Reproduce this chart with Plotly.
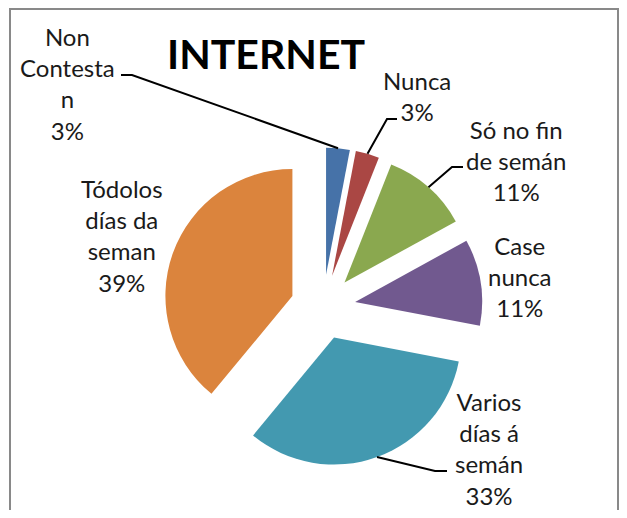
import math
import plotly.graph_objects as go

# ---- data ----
categories = ["Non Contesta n", "Nunca", "Só no fin de semán", "Case nunca",
              "Varios días á semán", "Tódolos días da seman"]
values = [3, 3, 11, 11, 33, 39]
label_lines = [["Non", "Contesta", "n"], ["Nunca"], ["Só no fin", "de semán"],
               ["Case", "nunca"], ["Varios", "días á", "semán"],
               ["Tódolos", "días da", "seman"]]
colors = ["#4672A8", "#AA4744", "#8AA84F", "#71598F", "#4399B0", "#DB843D"]
title_text = "INTERNET"

# ---- layout geometry (page pixels; the page body has an 8px margin) ----
OFF = 8
FW, FH = 611, 502
CX, CY, R = 323, 307, 127
PULL = 0.256

def px(x):
    return (x - OFF) / FW

def py(y):
    return 1 - (y - OFF) / FH

half = R * (1 + PULL)
dom_x = [px(CX - half), px(CX + half)]
dom_y = [py(CY + half), py(CY - half)]

total = sum(values)
pcts = [round(v / total * 100) for v in values]
texts = ["<br>".join(lines + [f"{p}%"]) for lines, p in zip(label_lines, pcts)]

# label centres (pixels) and leader-line elbows (pixels, or None)
label_pos = [(67, 84), (417, 96), (516, 161), (519.5, 276), (489, 448), (122, 235)]
elbows = [[(121, 75), (132, 75)], [(397, 119), (387, 119)], [(463, 167), (452, 167)],
          None, [(447, 471), (435, 471)], None]

fig = go.Figure(go.Pie(
    labels=categories, values=values, sort=False, direction="clockwise",
    rotation=0, pull=[PULL] * len(values), textinfo="none",
    marker=dict(colors=colors, line=dict(width=0)),
    domain=dict(x=dom_x, y=dom_y), showlegend=False, hoverinfo="label+percent",
))

annotations = []
shapes = []
cum = 0
for i, v in enumerate(values):
    mid = (cum + v / 2) / total * 2 * math.pi
    cum += v
    lx, ly = label_pos[i]
    annotations.append(dict(
        x=px(lx), y=py(ly), xref="paper", yref="paper", text=texts[i],
        showarrow=False, xanchor="center", yanchor="middle", align="center",
        font=dict(family="Lato", size=24, color="#1a1a1a"),
    ))
    if elbows[i]:
        tipx = CX + half * math.sin(mid)
        tipy = CY - half * math.cos(mid)
        pts = elbows[i] + [(tipx, tipy)]
        path = "M " + " L ".join(f"{px(a):.5f},{py(b):.5f}" for a, b in pts)
        shapes.append(dict(type="path", path=path, xref="paper", yref="paper",
                           line=dict(color="black", width=2)))

annotations.append(dict(
    x=px(265.5), y=py(53), xref="paper", yref="paper", text=f"<b>{title_text}</b>",
    showarrow=False, xanchor="center", yanchor="middle",
    font=dict(family="Lato", size=41, color="black"),
))

shapes.append(dict(type="rect", xref="paper", yref="paper",
                   x0=px(10), x1=px(618), y0=py(540), y1=py(9),
                   line=dict(color="#898989", width=2), layer="above"))

fig.update_layout(
    width=FW, height=FH, margin=dict(l=0, r=0, t=0, b=0),
    paper_bgcolor="white", plot_bgcolor="white",
    annotations=annotations, shapes=shapes,
)

fig.write_html("out.html")
